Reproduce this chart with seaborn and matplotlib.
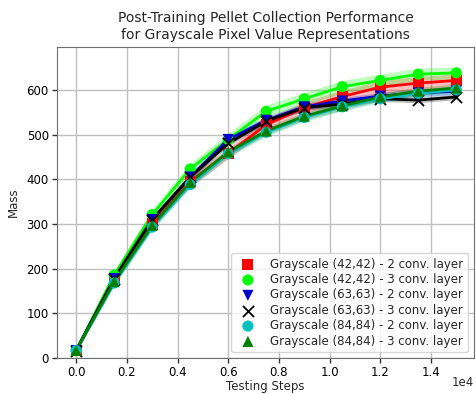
import matplotlib
matplotlib.use("Agg")
import matplotlib.pyplot as plt
from matplotlib.ticker import FuncFormatter
import seaborn as sns
import numpy as np
import pandas as pd

steps = [0, 1500, 3000, 4500, 6000, 7500, 9000, 10500, 12000, 13500, 15000]

labels = [
    "Grayscale (42,42) - 2 conv. layer",
    "Grayscale (42,42) - 3 conv. layer",
    "Grayscale (63,63) - 2 conv. layer",
    "Grayscale (63,63) - 3 conv. layer",
    "Grayscale (84,84) - 2 conv. layer",
    "Grayscale (84,84) - 3 conv. layer",
]

red_42_2 = [17, 174, 300, 395, 458, 522, 560, 585, 606, 615, 621]
lime_42_3 = [17, 186, 321, 423, 489, 552, 580, 607, 621, 635, 638]
blue_63_2 = [17, 178, 310, 405, 489, 532, 562, 575, 586, 593, 597]
black_63_3 = [17, 178, 310, 405, 480, 530, 560, 568, 580, 577, 584]
cyan_84_2 = [17, 168, 293, 388, 457, 505, 538, 562, 580, 592, 600]
green_84_3 = [17, 171, 297, 393, 461, 508, 541, 564, 584, 597, 604]

red_sd = [4, 8, 10, 12, 12, 13, 14, 14, 15, 15, 15]
lime_sd = [4, 8, 12, 13, 14, 14, 14, 14, 14, 14, 13]
blue_sd = [4, 6, 8, 8, 8, 8, 8, 8, 8, 8, 8]
black_sd = [4, 5, 6, 6, 6, 6, 6, 6, 6, 6, 6]
cyan_sd = [4, 7, 8, 8, 9, 9, 9, 9, 9, 9, 9]
green_sd = [4, 7, 8, 8, 9, 9, 9, 9, 9, 9, 9]

x_tick_values = [0, 2000, 4000, 6000, 8000, 10000, 12000, 14000]
y_tick_values = [0, 100, 200, 300, 400, 500, 600]
x_scale_text = "1e4"

series = [red_42_2, lime_42_3, blue_63_2, black_63_3, cyan_84_2, green_84_3]
spreads = [red_sd, lime_sd, blue_sd, black_sd, cyan_sd, green_sd]
colors = ["#ff0000", "#00ff00", "#0000cc", "#000000", "#00bfbf", "#008000"]
markers = ["s", "o", "v", "x", "o", "^"]

sns.set_style("ticks")
plt.rcParams["font.family"] = ["DejaVu Sans"]

fig = plt.figure(figsize=(4.76, 3.94), dpi=100)
ax = fig.add_axes([0.12, 0.091, 0.876, 0.79])

for lab, vals, sd, col, mk in zip(labels, series, spreads, colors, markers):
    x = np.array(steps, dtype=float)
    y = np.array(vals, dtype=float)
    s = np.array(sd, dtype=float)
    ax.fill_between(x, y - s, y + s, color=col, alpha=0.25, linewidth=0, zorder=2)
    sns.lineplot(x=x, y=y, color=col, linewidth=2, ax=ax, zorder=3, legend=False)
    sns.scatterplot(x=x, y=y, color=col, marker=mk, s=64,
                    linewidth=(1.3 if mk == "x" else 0), edgecolor=(col if mk == "x" else "none"),
                    ax=ax, zorder=4, label=lab)

ax.set_xlim(-750, 15700)
ax.set_ylim(0, 696)
ax.set_xticks(x_tick_values)
ax.set_yticks(y_tick_values)
ax.xaxis.set_major_formatter(FuncFormatter(lambda v, p: f"{v / 1e4:.1f}"))
ax.text(1.0, -0.078, x_scale_text, transform=ax.transAxes, ha="right", va="center", fontsize=8.5)

ax.grid(True, color="#c0c0c0", linewidth=1)
ax.set_axisbelow(True)
for sp in ax.spines.values():
    sp.set_color("#707070")
ax.tick_params(colors="#333333", labelcolor="black", labelsize=8.5, length=3.5, width=1, pad=2.5)

ax.set_title("Post-Training Pellet Collection Performance\nfor Grayscale Pixel Value Representations",
             fontsize=10, pad=6)
ax.set_xlabel("Testing Steps", fontsize=8.5, labelpad=0.5)
ax.set_ylabel("Mass", fontsize=8.5, labelpad=5)

leg = ax.legend(loc="lower right", fontsize=8.5, frameon=True, borderpad=0.4,
                handletextpad=0.9, labelspacing=0.2, markerscale=1.0)
leg.get_frame().set_edgecolor("#cccccc")

fig.savefig("out.png", dpi=100)
